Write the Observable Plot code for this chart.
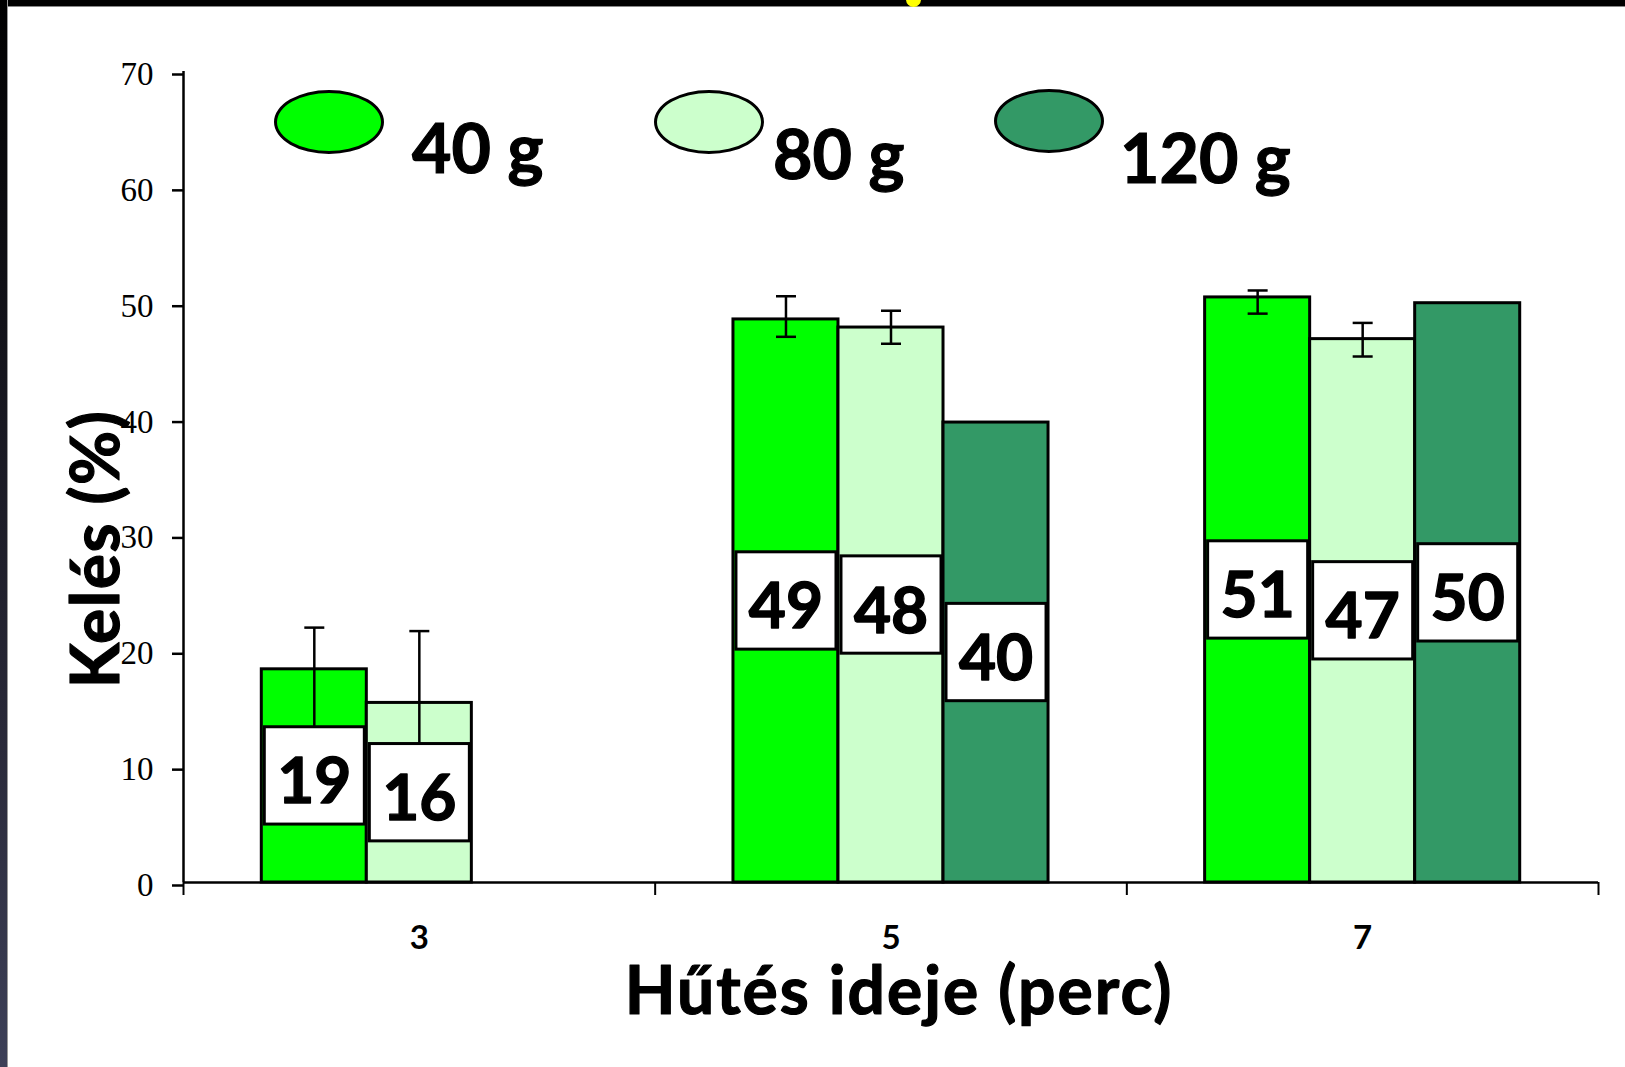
<!DOCTYPE html>
<html>
<head>
<meta charset="utf-8">
<script src="https://cdn.jsdelivr.net/npm/d3@7"></script>
<script src="https://cdn.jsdelivr.net/npm/@observablehq/plot@0.6"></script>
<style>
  html, body { margin: 0; padding: 0; background: #fff; }
  #wrap { position: relative; width: 1625px; height: 1067px; overflow: hidden; background: #fff; }
  #wrap svg.plot { position: absolute; left: 0; top: 0; }
  .band-top { position: absolute; left: 0; top: 0; width: 1625px; height: 6px; background: #000; border-bottom: 1.5px solid #888; }
  .band-left { position: absolute; left: 0; top: 0; width: 7px; height: 1067px; background: linear-gradient(#000, #2a2a3a 70%, #3d4058); border-right: 1.5px solid #999; }
  .sun { position: absolute; left: 906px; top: -8px; width: 15px; height: 15px; border-radius: 50%; background: #ffff00; }
  .leg-ell { position: absolute; width: 110px; height: 64px; border: 3px solid #000; border-radius: 50%; box-sizing: border-box; }
  .leg-txt { position: absolute; font-family: Lato, "Open Sans", sans-serif; font-weight: bold; font-size: 68px; line-height: 1; color: #000; white-space: nowrap; -webkit-text-stroke: 1.2px #000; }
</style>
</head>
<body>
<div id="wrap"></div>
<script>
// ---- data ----
const times = ["3", "5", "7"];
const weights = ["40 g", "80 g", "120 g"];
const colors = ["#00ff00", "#ccffcc", "#339966"];
const val40 = [18.4, 48.6, 50.5];
const val80 = [15.5, 47.9, 46.9];
const val120 = [null, 39.7, 50.0];
const lbl40 = ["19", "49", "51"];
const lbl80 = ["16", "48", "47"];
const lbl120 = [null, "40", "50"];
const errHi40 = [22.0, 50.6, 51.1];
const errLo40 = [13.0, 47.1, 49.1];
const errHi80 = [21.7, 49.35, 48.3];
const errLo80 = [11.0, 46.5, 45.4];
const yTicks = [0, 10, 20, 30, 40, 50, 60, 70];
const xTitle = "Hűtés ideje (perc)";
const yTitle = "Kelés (%)";

// ---- layout helpers (in group units) ----
const groupPad = 0.166;
const barW = (1 - 2 * groupPad) / 3;

const vals = [val40, val80, val120];
const lbls = [lbl40, lbl80, lbl120];
const errHi = [errHi40, errHi80, null];
const errLo = [errLo40, errLo80, null];

const rows = [];
const errRows = [];
weights.forEach((w, si) => {
  times.forEach((t, gi) => {
    const v = vals[si][gi];
    if (v == null) return;
    const x1 = gi + groupPad + si * barW;
    const r = { gi, si, weight: w, time: t, value: v, label: lbls[si][gi], x1, x2: x1 + barW, xc: x1 + barW / 2, color: colors[si] };
    rows.push(r);
    if (errHi[si]) errRows.push({ ...r, hi: errHi[si][gi], lo: errLo[si][gi] });
  });
});

const cap = { draw(ctx) { ctx.moveTo(-10, 0); ctx.lineTo(10, 0); } };
const boxHalf = 4.2;
const heavy = "Lato, sans-serif";

const chart = Plot.plot({
  width: 1625,
  height: 1067,
  marginLeft: 183,
  marginRight: 27,
  marginTop: 71,
  marginBottom: 185,
  className: "plot",
  style: { background: "transparent", color: "#000", fontFamily: heavy },
  x: { domain: [0, 3] },
  y: { domain: [0, 70] },
  color: { type: "identity" },
  marks: [
    Plot.rect(rows, { x1: "x1", x2: "x2", y1: 0, y2: "value", fill: "color", stroke: "#000", strokeWidth: 3 }),
    Plot.ruleX(errRows, { x: "xc", y1: "lo", y2: "hi", stroke: "#000", strokeWidth: 2.5 }),
    Plot.dot(errRows, { x: "xc", y: "hi", symbol: cap, r: 10, fill: "none", stroke: "#000", strokeWidth: 2.5 }),
    Plot.dot(errRows, { x: "xc", y: "lo", symbol: cap, r: 10, fill: "none", stroke: "#000", strokeWidth: 2.5 }),
    Plot.rect(rows, { x1: "x1", x2: "x2", y1: d => d.value / 2 - boxHalf, y2: d => d.value / 2 + boxHalf, insetLeft: 3, insetRight: 2, fill: "#fff", stroke: "#000", strokeWidth: 3 }),
    Plot.text(rows, { x: "xc", y: d => d.value / 2, text: "label", fontSize: 64, fontWeight: "bold", fontFamily: heavy, fill: "#000", stroke: "#000", strokeWidth: 1.4, dy: 7 }),
    Plot.ruleY([0], { stroke: "#000", strokeWidth: 2.5 }),
    Plot.ruleX([0], { y1: 0, y2: 70, stroke: "#000", strokeWidth: 2.5 }),
    Plot.axisY({ ticks: yTicks, tickSize: 11, tickPadding: 19, strokeWidth: 2.5, fontSize: 33, fontFamily: "Liberation Serif, serif", label: null, dy: 3 }),
    Plot.axisX({ ticks: [0, 1, 2, 3], tickSize: 13, strokeWidth: 2, tickFormat: () => "", label: null }),
    Plot.axisX({ ticks: [0.5, 1.5, 2.5], tickSize: 0, tickPadding: 43, tickFormat: d => times[Math.floor(d)], fontSize: 33, fontWeight: "bold", fontFamily: heavy, label: null }),
    Plot.text([xTitle], { frameAnchor: "bottom", lineAnchor: "bottom", textAnchor: "middle", text: d => d, fontSize: 66, fontWeight: "bold", fontFamily: heavy, dx: 8, dy: 131, fill: "#000", stroke: "#000", strokeWidth: 1.2 }),
    Plot.text([yTitle], { frameAnchor: "left", textAnchor: "middle", lineAnchor: "middle", text: d => d, rotate: -90, fontSize: 66, fontWeight: "bold", fontFamily: heavy, dx: -86, dy: 72, fill: "#000", stroke: "#000", strokeWidth: 1.2 })
  ]
});

// widen the two axis titles a little (letter spacing) to match the reference's wide lettering
d3.select(chart).selectAll("text").filter(function () { return this.textContent === xTitle; }).attr("letter-spacing", "2px");
d3.select(chart).selectAll("text").filter(function () { return this.textContent === yTitle; }).attr("letter-spacing", "1.5px");

const wrap = document.getElementById("wrap");
wrap.insertAdjacentHTML("beforeend", '<div class="band-top"></div><div class="band-left"></div><div class="sun"></div>');
wrap.appendChild(chart);

// legend (inside plot area, HTML overlay)
const legPos = [
  { cx: 329, cy: 122, tx: 412, base: 167 },
  { cx: 709, cy: 122, tx: 773, base: 173 },
  { cx: 1049, cy: 121, tx: 1120, base: 177 }
];
weights.forEach((w, i) => {
  const p = legPos[i];
  const e = document.createElement("div");
  e.className = "leg-ell";
  e.style.left = (p.cx - 55) + "px";
  e.style.top = (p.cy - 32) + "px";
  e.style.background = colors[i];
  wrap.appendChild(e);
  const t = document.createElement("div");
  t.className = "leg-txt";
  t.textContent = w;
  t.style.left = p.tx + "px";
  t.style.top = (p.base - 0.8 * 68) + "px";
  wrap.appendChild(t);
});
</script>
</body>
</html>
